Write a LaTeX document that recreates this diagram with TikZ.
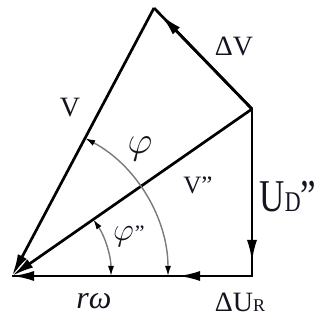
\documentclass[tikz,border=0pt]{standalone}
\usepackage{fontspec}
\setmainfont{Liberation Serif}
\usepackage{xcolor}
\usepackage{graphicx}
\usepackage{tikz}
\usetikzlibrary{arrows.meta,calc}
\definecolor{vcInk}{HTML}{000000}
\definecolor{vcArc}{HTML}{7A7A7A}
\definecolor{vcText}{HTML}{141420}
\tikzset{
  % Main vector (big filled head)
  vec/.style={-{Latex[length=22pt,width=10pt]},line width=2.7pt,color=vcInk},
  % Plain side of the triangle
  side/.style={line width=2.7pt,color=vcInk},
  % Angle arc (grey, small heads both ends)
  angarc/.style={{Latex[length=10pt,width=6pt,color=vcInk]}-{Latex[length=10pt,width=6pt,color=vcInk]},
    line width=1.4pt,color=vcArc},
  % Labels
  lbl/.style={font=\fontsize{28}{28}\selectfont,text=vcText,inner sep=0pt},
  glbl/.style={font=\fontsize{24}{24}\selectfont,text=vcText,inner sep=0pt},
}

\begin{document}
\begin{tikzpicture}[x=1pt,y=1pt]
  \useasboundingbox (0,0) rectangle (323,320);

  % Corner points
  \coordinate (O) at (12,44);
  \coordinate (T) at (154,312);
  \coordinate (P) at (252,211);
  \coordinate (Q) at (252,44);
  % Where the middle heads stop
  \coordinate (dV) at (161,305);
  \coordinate (uD) at (252,58);
  \coordinate (uR) at (178,44);

  % Sides
  \draw[side] (P) -- (T);
  \draw[side] (P) -- (Q) -- (O);
  \draw[vec] (T) -- (O);
  \draw[vec] (P) -- (O);
  \draw[vec] (uR) -- (O);
  \draw[vec] (P) -- (dV);
  \draw[vec] (P) -- (uD);
  \draw[vec] (Q) -- (uR);

  % Angles
  \draw[angarc] ($(O)+(0:156)$) arc[start angle=0,end angle=62,radius=156];
  \draw[angarc] ($(O)+(0:99)$) arc[start angle=0,end angle=34.8,radius=99];

  % Labels
  \node[lbl] (lV) at (70,212) {V};
  \node[lbl] (ldV) at (234,274) {ΔV};
  \node[lbl,font=\fontsize{25}{25}\selectfont] (lVpp) at (198,135) {V"};
  \node[lbl] (lUD) at (288,123)
    {\scalebox{1}[1.3]{\fontsize{35}{35}\selectfont U{\fontsize{22}{22}\selectfont D}"}};
  \node[lbl] (ldU) at (240,18) {ΔU{\fontsize{18}{18}\selectfont R}};
  \node[lbl,font=\fontsize{32}{32}\selectfont] (lrw) at (94,19) {\textit{rω}};
  \node[glbl] (lphi) at (140,171) {\scalebox{1.55}{$\varphi$}};
  \node[glbl] (lphipp) at (129,84)
    {\scalebox{1.3}{$\varphi$}\kern1pt{\fontsize{22}{22}\selectfont"}};
\end{tikzpicture}
\end{document}
